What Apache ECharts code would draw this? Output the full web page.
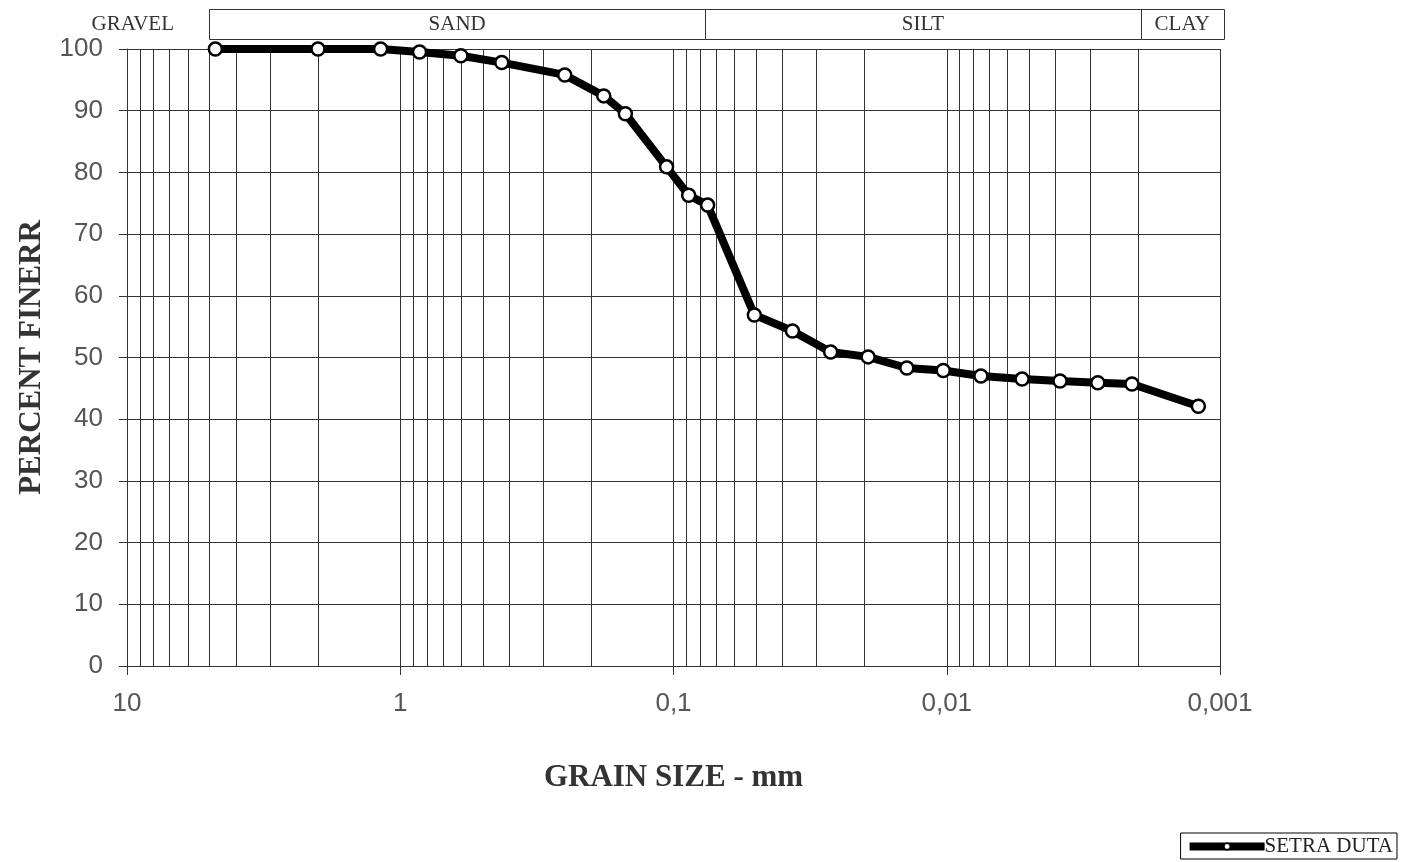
<!DOCTYPE html>
<html>
<head>
<meta charset="utf-8">
<title>Grain size</title>
<script src="https://cdn.jsdelivr.net/npm/echarts@6/dist/echarts.min.js"></script>
<style>
  html, body { margin: 0; padding: 0; background: #fff; }
  #grainChart { width: 1402px; height: 862px; }
</style>
</head>
<body>
<div id="grainChart"></div>
<script>
// grain size (mm) of each sieve / hydrometer reading
const grainSize = [4.75, 2.0, 1.18, 0.85, 0.6, 0.425, 0.25, 0.18, 0.15, 0.106, 0.088, 0.075,
  0.0506, 0.0367, 0.0266, 0.0194, 0.0140, 0.0103, 0.0075, 0.0053, 0.00385, 0.0028, 0.0021, 0.0012];
// percent finer
const percentFiner = [100, 100, 100, 99.5, 98.9, 97.8, 95.8, 92.4, 89.5, 80.9, 76.3, 74.7,
  56.9, 54.3, 50.9, 50.1, 48.3, 47.9, 47.0, 46.5, 46.2, 45.9, 45.7, 42.1];

// soil classes on top of the chart
const bandNames = ['GRAVEL', 'SAND', 'SILT', 'CLAY'];
const bandFrom = [13.4, 5, 0.0766, 0.00195];
const bandTo = [6.77, 0.0766, 0.00195, 0.00097];
const bandBoxed = [false, true, true, true];

// minor grid lines 2..9 of every decade
const decades = [1, 0.1, 0.01, 0.001];
const minorSteps = [2, 3, 4, 5, 6, 7, 8, 9];

const seriesName = 'SETRA DUTA';

var minorGrid = [];
decades.forEach(d => minorSteps.forEach(s => minorGrid.push([Number((d * s).toPrecision(3))])));

var bandData = bandNames.map((n, i) => [bandFrom[i], bandTo[i], n, bandBoxed[i] ? 1 : 0]);

var gridColor = '#333';

var chartDom = document.getElementById('grainChart');
var myChart = echarts.init(chartDom);

var option = {
  backgroundColor: '#fff',
  animation: false,
  grid: [
    { left: 127, right: 182, top: 49, bottom: 196 },
    // band row with GRAVEL / SAND / SILT / CLAY
    { left: 127, right: 182, top: 9, height: 30 }
  ],
  legend: {
    data: [seriesName],
    right: 5,
    bottom: 3,
    borderColor: '#000',
    borderWidth: 1,
    padding: [3, 4, 2, 5],
    itemWidth: 75,
    itemHeight: 8,
    lineStyle: { color: '#000', width: 8 },
    itemStyle: { color: '#fff', borderColor: '#000', borderWidth: 1.5 },
    textStyle: { fontFamily: 'Liberation Serif', fontSize: 21, color: '#222', padding: [0, 0, 0, -5] }
  },
  xAxis: [
    {
      type: 'log',
      logBase: 10,
      min: 0.001,
      max: 10,
      inverse: true,
      gridIndex: 0,
      name: 'GRAIN SIZE - mm',
      nameLocation: 'middle',
      nameGap: 96,
      nameTextStyle: { fontFamily: 'Liberation Serif', fontWeight: 'bold', fontSize: 31, color: '#333' },
      axisLine: { show: true, lineStyle: { color: gridColor, width: 1 } },
      axisTick: { show: true, length: 9, lineStyle: { color: gridColor } },
      axisLabel: {
        margin: 25,
        fontFamily: 'Liberation Sans',
        fontSize: 26,
        color: '#555',
        formatter: v => Number(v.toPrecision(3)).toString().replace('.', ',')
      },
      splitLine: { show: true, lineStyle: { color: gridColor, width: 1 } }
    },
    {
      type: 'log',
      logBase: 10,
      min: 0.001,
      max: 10,
      inverse: true,
      gridIndex: 1,
      show: false
    }
  ],
  yAxis: [
    {
      type: 'value',
      min: 0,
      max: 100,
      interval: 10,
      gridIndex: 0,
      name: 'PERCENT FINERR',
      nameLocation: 'middle',
      nameGap: 80,
      nameTextStyle: { fontFamily: 'Liberation Serif', fontWeight: 'bold', fontSize: 31, color: '#333' },
      axisLine: { show: true, lineStyle: { color: gridColor, width: 1 } },
      axisTick: { show: true, length: 8, lineStyle: { color: gridColor } },
      axisLabel: { margin: 24, fontFamily: 'Liberation Sans', fontSize: 26, color: '#555' },
      splitLine: { show: true, lineStyle: { color: gridColor, width: 1 } }
    },
    { type: 'value', min: 0, max: 1, gridIndex: 1, show: false }
  ],
  series: [
    {
      // minor vertical grid lines
      type: 'custom',
      xAxisIndex: 0,
      yAxisIndex: 0,
      silent: true,
      z: 1,
      data: minorGrid,
      encode: { x: 0 },
      renderItem: function (params, api) {
        var p0 = api.coord([api.value(0), 0]);
        var p1 = api.coord([api.value(0), 100]);
        return {
          type: 'line',
          shape: { x1: Math.round(p0[0]) + 0.5, y1: p0[1], x2: Math.round(p1[0]) + 0.5, y2: p1[1] },
          style: { stroke: gridColor, lineWidth: 1 }
        };
      }
    },
    {
      // soil classes band
      type: 'custom',
      xAxisIndex: 1,
      yAxisIndex: 1,
      silent: true,
      clip: false,
      data: bandData,
      encode: { x: [0, 1] },
      renderItem: function (params, api) {
        var a = api.coord([api.value(0), 1]);
        var b = api.coord([api.value(1), 0]);
        var boxed = api.value(3) === 1;
        var children = [];
        if (boxed) {
          children.push({
            type: 'rect',
            shape: { x: Math.round(a[0]) + 0.5, y: Math.round(a[1]) + 0.5, width: Math.round(b[0] - a[0]), height: Math.round(b[1] - a[1]) },
            style: { fill: '#fff', stroke: gridColor, lineWidth: 1 }
          });
        }
        children.push({
          type: 'text',
          style: {
            text: bandNames[params.dataIndex],
            x: (a[0] + b[0]) / 2,
            y: (a[1] + b[1]) / 2,
            align: 'center',
            verticalAlign: 'middle',
            fontFamily: 'Liberation Serif',
            fontSize: 21,
            fill: '#333'
          }
        });
        return { type: 'group', children: children };
      }
    },
    {
      name: seriesName,
      type: 'line',
      xAxisIndex: 0,
      yAxisIndex: 0,
      z: 5,
      data: grainSize.map((g, i) => [g, percentFiner[i]]),
      symbol: 'circle',
      symbolSize: 13,
      showAllSymbol: true,
      lineStyle: { color: '#000', width: 8 },
      itemStyle: { color: '#fff', borderColor: '#000', borderWidth: 2.5 }
    }
  ]
};

option && myChart.setOption(option);
</script>
</body>
</html>
